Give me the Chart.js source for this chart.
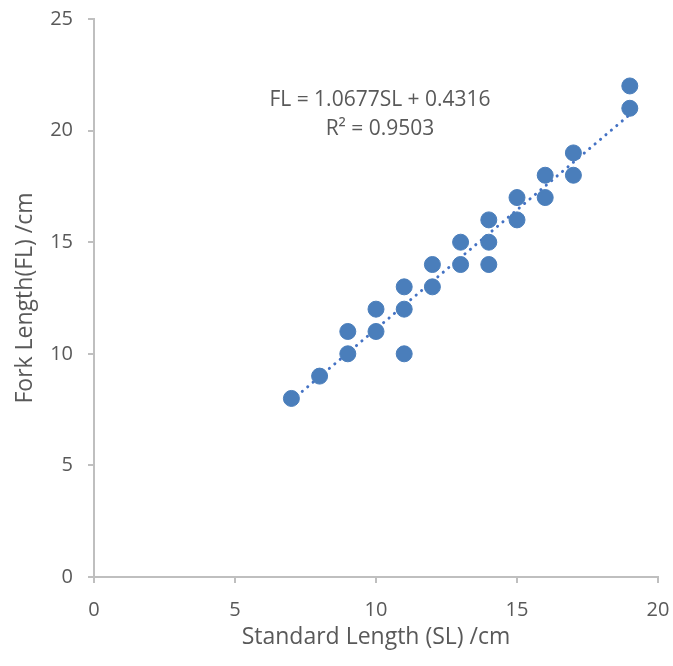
<!DOCTYPE html>
<html>
<head>
<meta charset="utf-8">
<script src="https://cdn.jsdelivr.net/npm/chart.js@4/dist/chart.umd.min.js"></script>
<style>
  html, body { margin: 0; padding: 0; background: #fff; }
  #wrap { width: 673px; height: 666px; }
</style>
</head>
<body>
<div id="wrap"><canvas id="chartFork"></canvas></div>
<script>
// Standard length vs fork length (cm)
const standardLength = [7, 8, 9, 9, 10, 10, 11, 11, 11, 12, 12, 13, 13, 14, 14, 14, 15, 15, 16, 16, 17, 17, 19, 19];
const forkLength     = [8, 9, 10, 11, 11, 12, 10, 12, 13, 13, 14, 14, 15, 14, 15, 16, 16, 17, 17, 18, 18, 19, 21, 22];
const trendSlope = 1.0677;
const trendIntercept = 0.4316;
const trendRange = [7, 19];
const equationLines = ['FL = 1.0677SL + 0.4316', 'R\u00b2 = 0.9503'];

const FONT = "'Open Sans', 'Noto Sans', sans-serif";
const TEXT = '#595959';
const AXIS = '#bfbfbf';

const points = standardLength.map((x, i) => ({ x: x, y: forkLength[i] }));
const trend = trendRange.map(x => ({ x: x, y: trendSlope * x + trendIntercept }));

// equation label drawn on the canvas
const equationPlugin = {
  id: 'equation',
  afterDatasetsDraw(chart){
    const ctx = chart.ctx;
    ctx.save();
    ctx.font = '21px ' + FONT;
    ctx.fillStyle = TEXT;
    ctx.textAlign = 'center';
    ctx.textBaseline = 'alphabetic';
    ctx.fillText(equationLines[0], 380, 106);
    ctx.fillText(equationLines[1], 380, 135);
    ctx.restore();
  }
};

new Chart(document.getElementById('chartFork'), {
  type: 'scatter',
  data: {
    datasets: [
      {
        label: 'Trend',
        type: 'line',
        data: trend,
        borderColor: '#4472c4',
        borderWidth: 3,
        borderDash: [0.1, 7],
        borderCapStyle: 'round',
        pointRadius: 0,
        fill: false,
        order: 2
      },
      {
        label: 'FL',
        data: points,
        backgroundColor: '#4a7ebb',
        borderColor: '#4a7ebb',
        pointRadius: 8,
        pointHoverRadius: 8,
        order: 1
      }
    ]
  },
  options: {
    responsive: true,
    maintainAspectRatio: false,
    animation: false,
    layout: { padding: { top: 19, right: 15, left: 0, bottom: 0 } },
    plugins: { legend: { display: false }, tooltip: { enabled: false } },
    scales: {
      x: {
        type: 'linear',
        min: 0, max: 20,
        ticks: { stepSize: 5, color: TEXT, font: { family: FONT, size: 20 }, padding: 15 },
        grid: { drawOnChartArea: false, color: AXIS, tickLength: 6, lineWidth: 2 },
        border: { color: AXIS, width: 2 },
        title: { display: true, text: 'Standard Length (SL) /cm', color: TEXT, font: { family: FONT, size: 23 }, padding: { top: 0, bottom: 15 } },
        afterFit(scale){
          scale.height = 89;
          scale.paddingLeft = 0;
          scale.paddingRight = 0;
        }
      },
      y: {
        type: 'linear',
        min: 0, max: 25,
        ticks: { stepSize: 5, color: TEXT, font: { family: FONT, size: 20 }, padding: 15 },
        grid: { drawOnChartArea: false, color: AXIS, tickLength: 6, lineWidth: 2 },
        border: { color: AXIS, width: 2 },
        title: { display: true, text: 'Fork Length(FL) /cm', color: TEXT, font: { family: FONT, size: 23 }, padding: { top: 12, bottom: 0 } },
        afterFit(scale){
          scale.width = 94;
          scale.paddingTop = 0;
          scale.paddingBottom = 0;
        }
      }
    }
  },
  plugins: [equationPlugin]
});
</script>
</body>
</html>
